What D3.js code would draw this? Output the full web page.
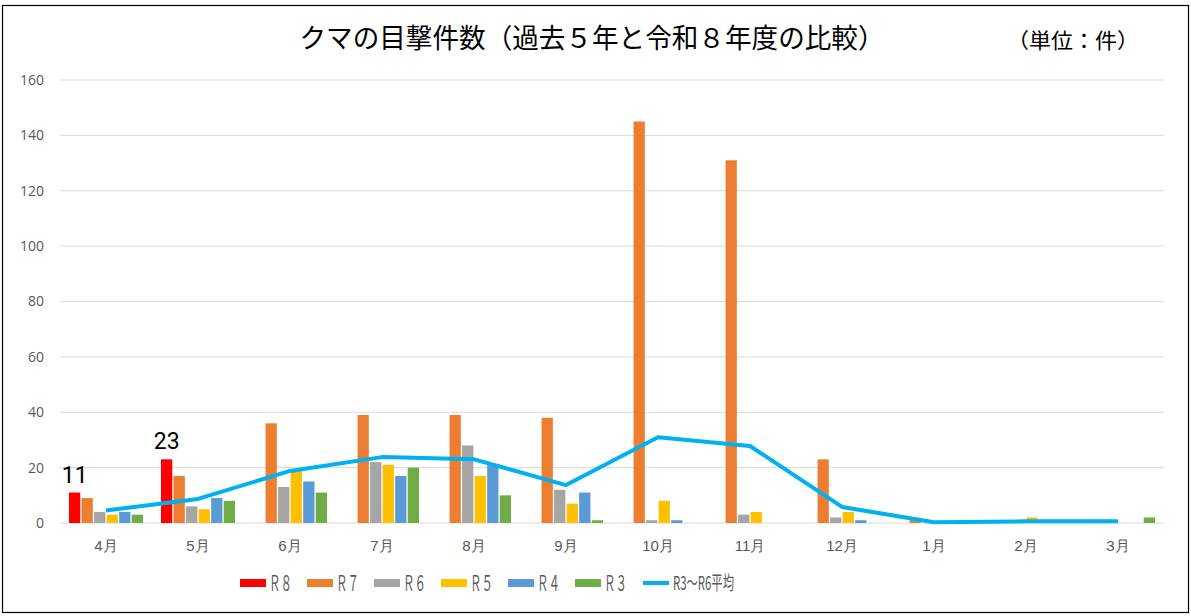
<!DOCTYPE html>
<html>
<head>
<meta charset="utf-8">
<script src="https://cdn.jsdelivr.net/npm/d3@7"></script>
<style>
  body { margin: 0; background: #fff; }
  svg { display: block; font-family: "Noto Sans CJK JP", "Noto Sans", sans-serif; }
</style>
</head>
<body>
<div id="chart"></div>
<script>
const months = ["4月", "5月", "6月", "7月", "8月", "9月", "10月", "11月", "12月", "1月", "2月", "3月"]

// counts per month
const r8 = [11, 23, null, null, null, null, null, null, null, null, null, null]
const r7 = [9, 17, 36, 39, 39, 38, 145, 131, 23, 1, 0, 0]
const r6 = [4, 6, 13, 22, 28, 12, 1, 3, 2, 0, 0, 0]
const r5 = [3, 5, 19, 21, 17, 7, 8, 4, 4, 0, 2, 0]
const r4 = [4, 9, 15, 17, 21, 11, 1, 0, 1, 0, 0, 0]
const r3 = [3, 8, 11, 20, 10, 1, 0, 0, 0, 0, 0, 2]
const avg_r3_r6 = [4.5, 8.7, 18.8, 23.8, 23, 13.7, 31, 27.8, 5.8, 0.3, 0.6, 0.6]

const series_names = ["Ｒ８", "Ｒ７", "Ｒ６", "Ｒ５", "Ｒ４", "Ｒ３"]
const series_values = [r8, r7, r6, r5, r4, r3]
const series_colors = ["#ff0000", "#ed7d31", "#a5a5a5", "#ffc000", "#5b9bd5", "#70ad47"]
const line_name = "R3～R6平均"
const line_color = "#00b0f0"
const y_ticks = [0, 20, 40, 60, 80, 100, 120, 140, 160]

const width = 1191, height = 616

const svg = d3.select("#chart").append("svg")
    .attr("width", width)
    .attr("height", height)

// outer frame
svg.append("rect")
    .attr("x", 2.5).attr("y", 5.5)
    .attr("width", width - 5).attr("height", height - 9)
    .attr("fill", "#fff")
    .attr("stroke", "#000")
    .attr("stroke-width", 1.2)

const x = d3.scaleBand().domain(months).range([60, 1164])
const x_inner = d3.scaleBand().domain(series_names).range([9, 83]).paddingInner(0.1)
const y = d3.scaleLinear().domain([0, 160]).range([523, 80])

// grid
svg.append("g")
    .selectAll("line")
    .data(y_ticks)
    .join("line")
    .attr("x1", 60).attr("x2", 1164)
    .attr("y1", d => y(d)).attr("y2", d => y(d))
    .attr("stroke", "#d9d9d9")
    .attr("stroke-width", 1)

// y axis labels
const y_axis = svg.append("g")
    .attr("transform", "translate(60,0)")
    .call(d3.axisLeft(y).tickValues(y_ticks).tickSize(0).tickPadding(16))
y_axis.select(".domain").remove()
y_axis.selectAll("text")
    .attr("fill", "#595959")
    .style("font-size", "14px")
    .style("font-family", "'Open Sans', sans-serif")

// x axis labels
const x_axis = svg.append("g")
    .attr("transform", "translate(0,523)")
    .call(d3.axisBottom(x).tickSize(0).tickPadding(17))
x_axis.select(".domain").remove()
x_axis.selectAll("text")
    .attr("fill", "#595959")
    .style("font-size", "15px")

// bars
const table = []
series_names.forEach((name, i) => {
    months.forEach((m, j) => {
        const v = series_values[i][j]
        if (v != null) table.push({ name, month: m, value: v, color: series_colors[i] })
    })
})

svg.append("g")
    .selectAll("rect")
    .data(table)
    .join("rect")
    .attr("x", d => x(d.month) + x_inner(d.name))
    .attr("y", d => y(d.value))
    .attr("width", x_inner.bandwidth())
    .attr("height", d => y(0) - y(d.value))
    .attr("fill", d => d.color)

// data labels on R8
svg.append("g")
    .selectAll("text")
    .data(table.filter(d => d.name === series_names[0]))
    .join("text")
    .attr("x", d => x(d.month) + x_inner(d.name) + x_inner.bandwidth() / 2)
    .attr("y", d => y(d.value) - 10)
    .attr("text-anchor", "middle")
    .style("font-size", "23px")
    .style("font-family", "'Liberation Sans Narrow', 'Roboto', sans-serif")
    .attr("fill", "#000")
    .text(d => d.value)

// average line
svg.append("path")
    .datum(avg_r3_r6)
    .attr("fill", "none")
    .attr("stroke", line_color)
    .attr("stroke-width", 4)
    .attr("stroke-linejoin", "round")
    .attr("d", d3.line()
        .x((d, i) => x(months[i]) + x.bandwidth() / 2)
        .y(d => y(d)))

// title
svg.append("text")
    .attr("x", 592).attr("y", 48)
    .attr("text-anchor", "middle")
    .style("font-size", "27px")
    .attr("fill", "#000")
    .attr("textLength", 585)
    .attr("lengthAdjust", "spacingAndGlyphs")
    .text("クマの目撃件数（過去５年と令和８年度の比較）")

svg.append("text")
    .attr("x", 1073).attr("y", 48)
    .attr("text-anchor", "middle")
    .style("font-size", "21px")
    .attr("fill", "#000")
    .attr("textLength", 132)
    .attr("lengthAdjust", "spacingAndGlyphs")
    .text("（単位：件）")

// legend
const legend = svg.append("g").attr("transform", "translate(240,583)")
const item_step = 67

series_names.forEach((name, i) => {
    const g = legend.append("g").attr("transform", `translate(${i * item_step},0)`)
    g.append("rect")
        .attr("x", 0).attr("y", -4)
        .attr("width", 26).attr("height", 8)
        .attr("fill", series_colors[i])
    g.append("text")
        .attr("x", 29).attr("y", 8)
        .style("font-size", "21px")
        .attr("fill", "#595959")
        .attr("textLength", 23)
        .attr("lengthAdjust", "spacingAndGlyphs")
        .text(name)
})

const lg = legend.append("g").attr("transform", `translate(${6 * item_step + 1},0)`)
lg.append("line")
    .attr("x1", 0).attr("x2", 26)
    .attr("y1", 0).attr("y2", 0)
    .attr("stroke", line_color)
    .attr("stroke-width", 4)
lg.append("text")
    .attr("x", 30).attr("y", 7)
    .style("font-size", "19px")
    .attr("fill", "#595959")
    .attr("textLength", 61)
    .attr("lengthAdjust", "spacingAndGlyphs")
    .text(line_name)
</script>
</body>
</html>
